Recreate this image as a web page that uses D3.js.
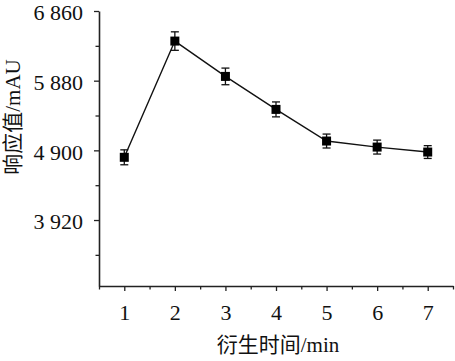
<!DOCTYPE html>
<html><head><meta charset="utf-8">
<script src="https://cdn.jsdelivr.net/npm/d3@7/dist/d3.min.js"></script>
<style>body{margin:0;background:#fff}svg{display:block}text{font-family:"Liberation Serif","Noto Sans CJK SC",serif}</style>
</head><body><svg id="c" width="455" height="361"></svg>
<script>
const times = [1, 2, 3, 4, 5, 6, 7];
const response = [4802, 6437, 5940, 5476, 5031, 4946, 4876];
const errors = [105, 130, 117, 105, 98, 98, 90];
const yTicks = [3920, 4900, 5880, 6860];
const yMinor = [3430, 4410, 5390, 6370];
const xTicks = [1, 2, 3, 4, 5, 6, 7];
const xMinor = [0.5, 1.5, 2.5, 3.5, 4.5, 5.5, 6.5, 7.5];
const xTitle = "衍生时间/min";
const yTitle = "响应值/mAU";

const svg = d3.select("#c");
const x = d3.scaleLinear().domain([0.5, 7.5]).range([99, 453]);
const y = d3.scaleLinear().domain([2992, 6860]).range([286, 11]);

const yAxis = svg.append("g").attr("transform", "translate(99,0)")
  .call(d3.axisLeft(y).tickValues(yTicks).tickFormat(v => d3.format(",")(v).replace(",", " ")).tickSize(5).tickSizeOuter(0));
svg.append("g").attr("transform", "translate(99,0)")
  .call(d3.axisLeft(y).tickValues(yMinor).tickFormat("").tickSize(3.5).tickSizeOuter(0))
  .select(".domain").remove();
const xAxis = svg.append("g").attr("transform", "translate(0,286)")
  .call(d3.axisBottom(x).tickValues(xTicks).tickFormat(d3.format("d")).tickSize(5).tickSizeOuter(0).tickPadding(13));
svg.append("g").attr("transform", "translate(0,286)")
  .call(d3.axisBottom(x).tickValues(xMinor).tickFormat("").tickSize(3.5).tickSizeOuter(0))
  .select(".domain").remove();

svg.selectAll(".domain").attr("stroke", "#222").attr("stroke-width", 1.6);
svg.selectAll(".tick line").attr("stroke", "#222").attr("stroke-width", 1.3);
svg.selectAll(".tick text").attr("font-size", 22).attr("fill", "#111")
  .attr("font-family", "Liberation Serif");
yAxis.selectAll(".tick text").attr("dx", "-8").attr("dy", "0.4em");

const line = d3.line().x((d, i) => x(times[i])).y(d => y(d));
svg.append("path").datum(response).attr("d", line)
  .attr("fill", "none").attr("stroke", "#111").attr("stroke-width", 1.4);

const g = svg.append("g");
response.forEach((v, i) => {
  const cx = x(times[i]);
  const top = y(v + errors[i]), bot = y(v - errors[i]);
  g.append("line").attr("x1", cx).attr("x2", cx).attr("y1", top).attr("y2", bot).attr("stroke", "#111").attr("stroke-width", 1.3);
  [top, bot].forEach(yy => g.append("line").attr("x1", cx - 4).attr("x2", cx + 4).attr("y1", yy).attr("y2", yy).attr("stroke", "#111").attr("stroke-width", 1.3));
  g.append("rect").attr("x", cx - 4.5).attr("y", y(v) - 4.5).attr("width", 9).attr("height", 9).attr("fill", "#000");
});

svg.append("text").attr("x", 278).attr("y", 352).attr("text-anchor", "middle")
  .attr("font-size", 21).attr("fill", "#111").text(xTitle);
svg.append("text").attr("transform", "translate(20,117) rotate(-90)").attr("text-anchor", "middle")
  .attr("font-size", 21).attr("fill", "#111").text(yTitle);
</script></body></html>
